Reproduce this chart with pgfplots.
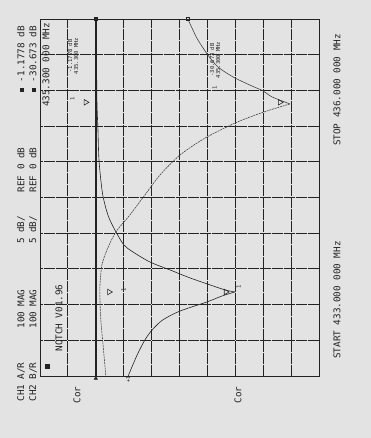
\documentclass[border=0pt]{standalone}
\usepackage{pgfplots}
\pgfplotsset{compat=1.18}
\usepackage{fontspec}
\setmonofont{DejaVu Sans Mono}
\definecolor{bg}{RGB}{227,227,227}
\definecolor{ink}{RGB}{35,35,35}
\newcommand{\lbl}{\ttfamily\fontsize{9.3}{10}\selectfont}
\newcommand{\sm}{\ttfamily\fontsize{5.5}{6}\selectfont}
\begin{document}
\begin{tikzpicture}
\fill[bg] (-40pt,-62pt) rectangle (331pt,376pt);
\useasboundingbox (-40pt,-62pt) rectangle (331pt,376pt);
\begin{axis}[at={(0,0)},anchor=south west, scale only axis, width=279pt, height=357pt,
  x dir=reverse, xmin=-40, xmax=10, ymin=433, ymax=436,
  xtick={-40,-35,-30,-25,-20,-15,-10,-5,0,5,10},
  ytick={433,433.3,433.6,433.9,434.2,434.5,434.8,435.1,435.4,435.7,436},
  xticklabels={}, yticklabels={}, major tick length=0pt,
  grid=major, grid style={ink, line width=0.9pt, dash pattern=on 11pt off 1pt},
  axis line style={ink, line width=0.9pt}, clip=false]
% reference line CH1 (0 dB)
\addplot[ink, line width=2.3pt] coordinates {(0,433) (0,436)};
\addplot[ink, only marks, mark=square*, mark size=1.4pt] coordinates {(0,436)};
\addplot[ink, only marks, mark=triangle*, mark size=2pt] coordinates {(0,432.98)};
% CH1 trace (notch at 433.706 MHz)
\addplot[ink, line width=0.6pt, smooth] coordinates {
 (-0.05,436) (-0.13,435.655) (-0.21,435.294) (-0.39,435.067) (-0.57,434.815)
 (-1.11,434.563) (-1.65,434.437) (-2.37,434.328) (-3.62,434.210) (-5.05,434.101)
 (-6.67,434.042) (-9.71,433.958) (-13.3,433.891) (-16.9,433.824) (-20.5,433.765)
 (-23.2,433.723) (-24.9,433.706)};
\addplot[ink, line width=0.6pt, smooth] coordinates {
 (-24.9,433.706) (-22.6,433.672) (-19.9,433.622) (-15.1,433.546) (-12.0,433.471)
 (-10.1,433.387) (-8.8,433.303) (-7.4,433.176) (-5.8,433.0)};
% CH2 trace (notch at 435.3 MHz)
\addplot[ink!85, line width=0.6pt, smooth] coordinates {
 (-16.5,436) (-17.4,435.908) (-18.3,435.824) (-20.1,435.697) (-21.9,435.597)
 (-24.6,435.513) (-27.6,435.445) (-30.0,435.395) (-31.6,435.345) (-34.8,435.286)};
\addplot[ink!85, line width=0.6pt, smooth, dash pattern=on 2pt off 0.8pt] coordinates {
 (-34.8,435.286) (-31.2,435.235) (-27.6,435.176) (-24.6,435.118) (-19.6,435.0)
 (-15.1,434.857) (-11.5,434.689) (-8.8,434.521) (-6.1,434.353) (-3.6,434.210)
 (-2.0,434.059) (-1.1,433.933) (-0.75,433.765) (-0.75,433.639) (-0.9,433.471)
 (-1.3,433.261) (-1.8,433.0)};
\addplot[ink, only marks, mark=square, mark size=1.4pt] coordinates {(-16.5,436)};
% markers
\addplot[ink, only marks, mark=triangle, mark size=3.2pt, mark options={rotate=-90, line width=0.6pt}]
 coordinates {(1.8,435.3) (-33.0,435.3) (-23.3,433.706) (-2.4,433.706)};
\node[ink, font=\sm, rotate=90] at (axis cs:4.2,435.33) {1};
\node[ink, font=\sm, rotate=90] at (axis cs:-21.3,435.42) {1};
\node[ink, font=\sm, rotate=90] at (axis cs:-25.6,433.75) {1};
\node[ink, font=\sm, rotate=90] at (axis cs:-5.0,433.72) {1};
\node[ink, font=\sm, rotate=90] at (axis cs:-5.8,432.97) {+1};
\end{axis}
% annotation texts (rotated, plotter style)
\begin{scope}[every node/.style={ink, font=\lbl, rotate=90, inner sep=0pt}]
\node at (-19pt,-6pt) {CH1 A/R};
\node at (-19pt,67pt) {100 MAG};
\node at (-19pt,146pt) {5 dB/};
\node at (-19pt,206pt) {REF 0 dB};
\node at (-19pt,317pt) {\rule{4pt}{4pt} -1.1778 dB};
\node at (-7pt,-6pt) {CH2 B/R};
\node at (-7pt,67pt) {100 MAG};
\node at (-7pt,146pt) {5 dB/};
\node at (-7pt,206pt) {REF 0 dB};
\node at (-7pt,317pt) {\rule{4pt}{4pt} -30.673 dB};
\node at (6pt,311pt) {435.300 000 MHz};
\node at (19pt,58pt) {NOTCH V01.96};
\node at (7pt,9pt) {\rule{5pt}{5pt}};
\node at (37pt,-19pt) {Cor};
\node at (198pt,-19pt) {Cor};
\node at (297pt,76pt) {START 433.000 000 MHz};
\node at (297pt,286pt) {STOP 436.000 000 MHz};
\node[font=\sm, align=center] at (33pt,320pt) {-1.1778 dB\\435.300 MHz};
\node[font=\sm, align=center] at (175pt,316pt) {-30.673 dB\\435.300 MHz};
\end{scope}
\end{tikzpicture}
\end{document}
